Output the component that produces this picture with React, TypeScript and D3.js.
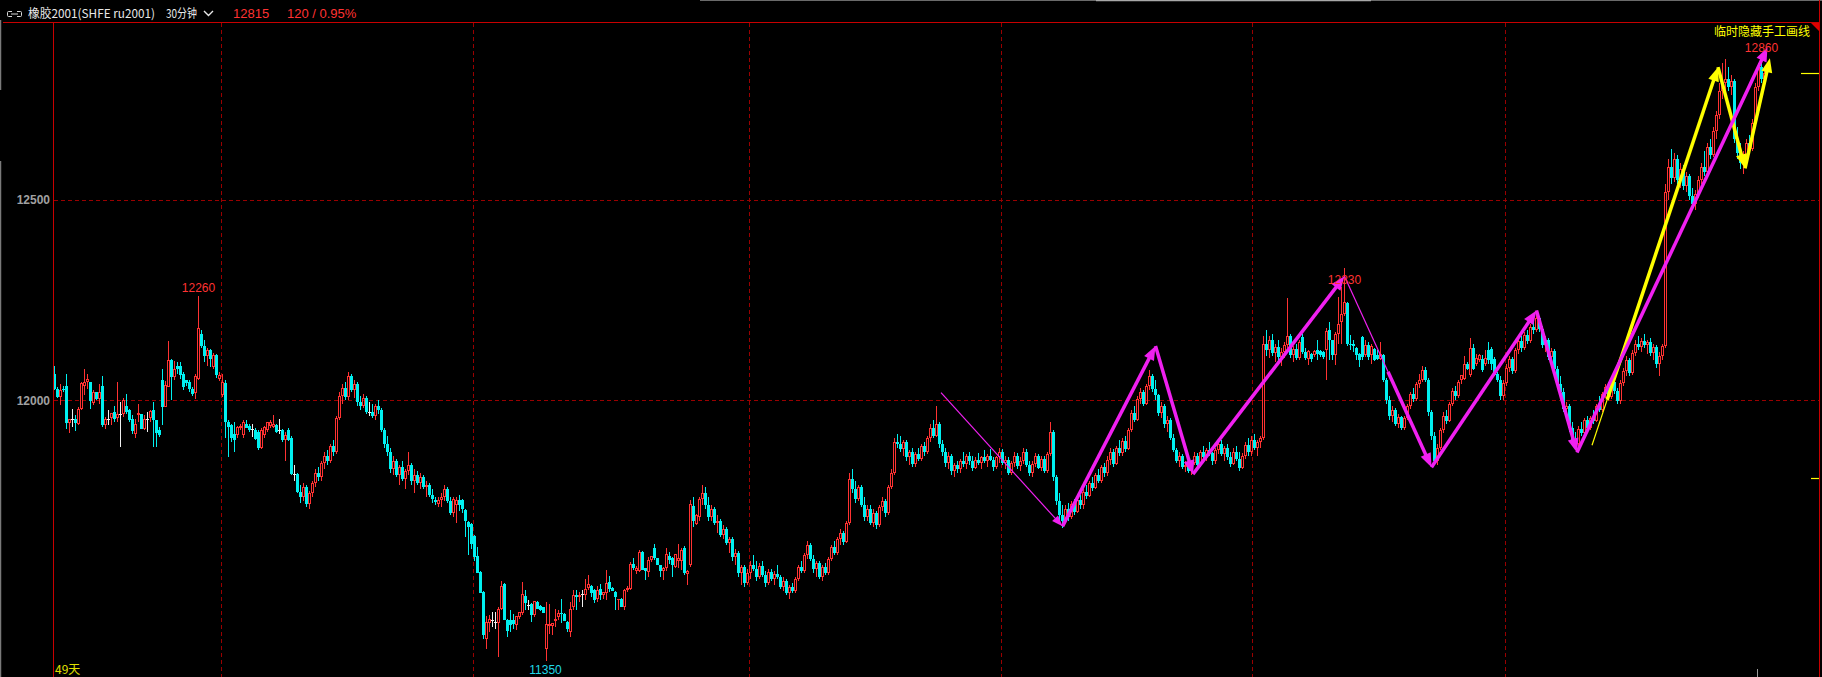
import React from "react";
import * as d3 from "d3";

type Bar = [number, number, number, number]; // open, high, low, close

const period1: Bar[] = [
  [12065,12085,12025,12029],[12029,12032,12005,12008],[12008,12040,11988,12025],[12029,12035,12020,12025],[12035,12065,11929,11944],[11944,11954,11919,11954],[11954,11979,11934,11954],[11954,11963,11924,11944],[11940,11983,11938,11979],[11979,12046,11975,12042],
  [12035,12079,12012,12046],[12046,12066,12029,12054],[12046,12046,11979,11998],[11993,12025,11988,12021],[12021,12021,12000,12002],[12002,12040,11991,12021],[12035,12060,11934,11938],[11938,11958,11929,11954],[11954,11975,11938,11954],[11957,11969,11938,11969],
  [11971,11985,11946,11954],[11957,12046,11946,11965],[11965,11996,11884,11965],[11965,12006,11958,12000],[11985,12015,11967,11971],[11975,11979,11946,11952],[11954,11963,11915,11924],[11915,11954,11905,11942],[11963,11990,11946,11968],[11965,11965,11929,11929],
  [11929,11963,11925,11954],[11954,11971,11921,11954],[11957,11975,11946,11973],[11975,11996,11884,11950],[11950,11952,11884,11919],[11927,11934,11909,11913],[12050,12079,11938,11983],[11983,12048,11983,12037],[12033,12147,12033,12100],[12100,12104,12000,12058],
  [12058,12098,12050,12079],[12085,12096,12066,12077],[12085,12096,12054,12062],[12066,12071,12025,12033],[12050,12050,12035,12042],[12046,12050,12020,12029],[12029,12033,12010,12015],[12017,12066,12004,12060],[12054,12260,12050,12180],[12165,12175,12130,12135],
  [12135,12150,12095,12110],[12110,12130,12085,12125],[12125,12128,12083,12104],[12083,12118,12078,12112],[12112,12115,12055,12062],[12054,12070,12048,12062],
];

const period2: Bar[] = [
  [12012,12066,12008,12046],[12042,12050,11905,11946],[11946,11950,11858,11934],[11938,11940,11895,11905],[11917,11945,11870,11900],[11913,11936,11905,11934],[11930,11940,11925,11937],[11913,11950,11905,11946],[11942,11950,11930,11932],[11935,11940,11922,11925],
  [11929,11942,11909,11929],[11927,11932,11902,11904],[11921,11925,11875,11880],[11880,11930,11878,11925],[11913,11937,11905,11934],[11926,11946,11920,11946],[11937,11950,11932,11946],[11934,11963,11930,11940],[11938,11940,11918,11921],[11925,11954,11917,11925],
  [11925,11928,11897,11900],[11900,11921,11850,11913],[11927,11930,11898,11900],[11905,11910,11815,11817],[11817,11840,11800,11817],[11817,11820,11770,11772],[11772,11790,11745,11760],[11760,11795,11750,11785],[11785,11790,11735,11742],[11742,11775,11730,11768],
  [11768,11800,11760,11795],[11795,11830,11785,11820],[11820,11835,11800,11808],[11808,11850,11800,11845],[11845,11870,11830,11862],[11862,11875,11840,11850],[11850,11890,11845,11885],[11885,11900,11860,11870],[11870,11960,11865,11955],[11955,12020,11950,12010],
  [12010,12040,11990,12030],[12030,12045,12000,12008],[12008,12070,12000,12060],[12060,12065,12020,12025],[12025,12050,12005,12040],[12040,12045,11985,11995],[11995,12010,11975,11985],[11985,12015,11980,12005],[12005,12010,11965,11970],[11970,11995,11960,11970],
  [11972,11990,11955,11960],[11960,11990,11950,11985],[11985,12000,11965,11975],[11975,11980,11920,11925],[11925,11930,11880,11890],[11890,11910,11860,11870],[11870,11880,11820,11830],[11830,11860,11815,11850],[11850,11855,11810,11815],[11815,11840,11790,11835],
  [11835,11850,11800,11805],[11805,11830,11780,11825],[11825,11870,11815,11840],[11840,11845,11790,11800],[11800,11830,11770,11815],[11815,11825,11790,11795],[11795,11820,11780,11810],[11810,11815,11780,11785],[11785,11800,11760,11790],[11790,11795,11760,11765],
  [11765,11780,11745,11755],[11751,11760,11740,11747],[11741,11760,11735,11751],[11751,11770,11735,11760],[11760,11790,11750,11780],[11780,11785,11745,11750],[11750,11760,11715,11720],[11720,11760,11710,11755],[11740,11760,11695,11751],[11751,11765,11725,11740],
  [11751,11755,11718,11730],[11726,11730,11660,11699],[11697,11700,11614,11685],[11691,11695,11630,11643],
];

const period3: Bar[] = [
  [11661,11665,11600,11610],[11611,11635,11570,11570],[11572,11575,11520,11520],[11522,11525,11406,11415],[11406,11462,11381,11448],[11445,11464,11423,11456],[11452,11473,11435,11452],[11448,11473,11431,11448],[11444,11485,11361,11481],[11481,11551,11477,11537],
  [11542,11545,11452,11452],[11452,11455,11410,11425],[11452,11477,11423,11440],[11452,11467,11431,11442],[11440,11462,11427,11462],[11460,11473,11455,11473],[11469,11547,11464,11517],[11512,11527,11477,11495],[11489,11502,11477,11489],[11492,11495,11448,11464],
  [11464,11499,11460,11499],[11498,11500,11481,11481],[11487,11490,11475,11477],[11484,11486,11470,11470],[11381,11498,11350,11442],[11437,11492,11419,11442],[11437,11445,11415,11445],[11450,11481,11435,11456],[11460,11477,11452,11470],[11470,11506,11444,11467],
  [11467,11470,11450,11450],[11448,11450,11423,11431],[11423,11498,11410,11481],[11484,11527,11477,11516],[11516,11527,11477,11510],[11510,11523,11498,11516],[11518,11527,11485,11518],[11514,11554,11502,11531],[11533,11566,11527,11542],[11537,11540,11510,11520],
  [11528,11530,11495,11503],[11506,11537,11498,11527],[11531,11542,11502,11514],[11514,11520,11505,11523],[11520,11577,11502,11545],[11547,11562,11523,11531],[11533,11535,11525,11525],[11523,11525,11477,11510],[11502,11506,11477,11506],[11506,11508,11485,11485],
  [11485,11530,11477,11528],[11528,11537,11522,11533],[11531,11597,11527,11592],[11592,11606,11577,11581],[11575,11587,11567,11581],[11575,11626,11572,11622],[11622,11625,11577,11577],[11581,11583,11552,11575],[11572,11610,11560,11601],[11601,11612,11598,11611],
  [11631,11641,11601,11606],[11606,11608,11589,11589],[11589,11590,11560,11575],[11575,11585,11552,11582],[11581,11631,11575,11616],[11611,11622,11593,11601],[11606,11610,11560,11589],[11585,11618,11581,11616],[11600,11641,11581,11606],[11600,11631,11577,11626],
  [11631,11636,11564,11570],[11567,11577,11540,11575],[11589,11751,11585,11741],[11736,11760,11685,11699],[11693,11716,11689,11714],[11709,11760,11700,11755],[11755,11790,11740,11770],[11770,11785,11730,11740],[11740,11760,11700,11710],[11710,11740,11700,11730],
  [11730,11735,11690,11695],[11695,11715,11670,11700],[11700,11705,11660,11665],[11665,11690,11655,11680],[11680,11685,11640,11645],[11645,11660,11620,11655],[11655,11660,11600,11610],[11610,11630,11590,11620],[11620,11625,11560,11570],[11570,11590,11540,11585],
  [11585,11590,11535,11545],[11545,11580,11540,11570],
];

const period4: Bar[] = [
  [11570,11600,11555,11590],[11590,11615,11575,11580],[11580,11600,11550,11560],[11560,11595,11555,11588],[11588,11600,11560,11565],[11565,11575,11535,11545],[11545,11580,11540,11572],[11572,11580,11550,11555],[11555,11575,11540,11568],[11568,11590,11555,11560],
  [11560,11565,11530,11535],[11535,11560,11525,11550],[11550,11555,11515,11520],[11520,11540,11505,11535],[11535,11545,11520,11525],[11525,11560,11520,11555],[11555,11590,11550,11585],[11585,11600,11570,11575],[11575,11620,11570,11615],[11615,11650,11605,11640],
  [11640,11645,11600,11605],[11605,11615,11570,11580],[11580,11600,11560,11595],[11595,11600,11555,11560],[11560,11590,11550,11585],[11585,11595,11565,11570],[11570,11610,11565,11605],[11605,11640,11600,11635],[11635,11650,11615,11620],[11620,11660,11615,11655],
  [11655,11680,11640,11670],[11670,11675,11640,11648],[11648,11700,11645,11695],[11695,11820,11690,11805],[11805,11830,11770,11780],[11780,11800,11745,11755],[11755,11790,11750,11785],[11785,11790,11735,11740],[11740,11760,11700,11710],[11710,11740,11700,11730],
  [11730,11740,11690,11695],[11695,11730,11685,11720],[11720,11725,11680,11690],[11690,11740,11685,11735],[11735,11760,11725,11750],[11750,11755,11710,11718],[11718,11790,11715,11785],[11785,11830,11780,11820],[11820,11905,11815,11895],[11895,11915,11880,11890],
  [11890,11912,11870,11878],[11878,11900,11860,11895],[11895,11900,11850,11858],[11858,11875,11840,11870],[11870,11880,11835,11842],[11842,11870,11835,11865],[11865,11880,11850,11855],[11855,11890,11850,11885],[11885,11895,11860,11870],[11870,11910,11865,11905],
  [11905,11940,11895,11930],[11930,11950,11905,11912],[11912,11985,11908,11940],[11940,11945,11880,11890],[11890,11900,11860,11870],[11870,11880,11835,11845],[11845,11870,11830,11860],[11860,11865,11815,11825],[11825,11845,11810,11838],[11838,11850,11820,11828],
  [11828,11855,11820,11850],[11850,11870,11835,11842],[11842,11865,11830,11860],[11860,11872,11840,11848],[11848,11860,11825,11832],[11832,11858,11828,11852],[11852,11868,11840,11845],[11845,11862,11830,11858],[11858,11875,11845,11850],[11850,11865,11835,11862],
  [11862,11878,11848,11852],[11852,11858,11825,11835],[11835,11862,11830,11858],[11858,11880,11845,11870],
];

const period5: Bar[] = [
  [11870,11878,11840,11845],[11845,11860,11830,11852],[11852,11858,11815,11820],[11820,11850,11815,11845],[11845,11870,11835,11862],[11862,11868,11830,11836],[11836,11858,11825,11850],[11850,11880,11842,11872],[11872,11878,11835,11840],[11840,11850,11812,11818],
  [11818,11848,11810,11842],[11842,11868,11835,11860],[11860,11865,11828,11832],[11832,11860,11825,11855],[11855,11862,11820,11825],[11825,11870,11820,11865],[11865,11945,11860,11920],[11920,11925,11800,11810],[11810,11815,11740,11750],[11750,11770,11700,11715],
  [11715,11740,11682,11700],[11700,11740,11695,11730],[11730,11745,11700,11710],[11710,11750,11705,11742],[11742,11755,11715,11722],[11722,11760,11718,11752],[11752,11765,11730,11738],[11738,11780,11730,11772],[11772,11790,11755,11762],[11762,11800,11758,11795],
  [11795,11810,11775,11782],[11782,11820,11778,11815],[11815,11830,11795,11800],[11800,11840,11795,11835],[11835,11845,11810,11818],[11818,11860,11812,11852],[11852,11880,11840,11870],[11870,11878,11835,11842],[11842,11885,11838,11880],[11880,11900,11860,11868],
  [11868,11905,11862,11898],[11898,11910,11870,11878],[11878,11930,11875,11925],[11925,11975,11920,11968],[11968,11985,11945,11952],[11952,12010,11948,12002],[12002,12030,11990,12020],[12020,12025,11985,11992],[11992,12040,11988,12035],[12035,12075,12025,12060],
  [12060,12065,12020,12028],[12028,12050,12000,12012],[12012,12015,11960,11968],[11968,11995,11955,11985],[11985,11990,11930,11940],[11940,11960,11920,11950],[11950,11955,11900,11905],[11905,11915,11870,11875],[11875,11880,11845,11850],[11850,11870,11835,11862],
  [11862,11865,11830,11835],[11835,11850,11822,11840],[11840,11842,11818,11825],[11825,11850,11815,11845],[11845,11870,11840,11862],[11862,11868,11835,11840],[11840,11875,11835,11870],[11870,11885,11852,11858],[11858,11880,11850,11875],[11875,11895,11862,11868],
  [11868,11872,11840,11848],[11848,11880,11842,11875],[11875,11898,11865,11890],[11890,11900,11860,11865],[11865,11885,11848,11880],[11880,11890,11852,11858],[11858,11870,11835,11842],[11842,11880,11838,11872],[11872,11885,11850,11855],[11855,11870,11825,11832],
  [11832,11868,11828,11862],[11862,11895,11855,11888],[11888,11905,11860,11870],[11870,11910,11862,11900],
];

const period6: Bar[] = [
  [11900,11915,11875,11880],[11880,11900,11860,11895],[11895,11910,11880,11905],[11905,12160,11900,12140],[12140,12175,12110,12125],[12125,12160,12105,12150],[12150,12165,12110,12118],[12118,12140,12095,12132],[12132,12150,12100,12108],[12108,12130,12085,12120],
  [12120,12145,12105,12138],[12138,12255,12130,12160],[12160,12165,12105,12112],[12112,12135,12095,12128],[12128,12140,12100,12105],[12105,12150,12100,12145],[12158,12165,12115,12120],[12120,12130,12100,12105],[12104,12125,12087,12123],[12116,12118,12095,12104],
  [12112,12125,12108,12123],[12125,12151,12100,12116],[12123,12125,12108,12112],[12120,12122,12104,12108],[12125,12180,12050,12173],[12176,12195,12100,12149],[12149,12150,12100,12112],[12112,12170,12087,12166],[12166,12257,12141,12191],[12195,12282,12141,12216],
  [12216,12330,12210,12245],[12243,12245,12135,12141],[12141,12162,12125,12137],[12141,12151,12120,12135],[12131,12133,12100,12112],[12116,12118,12083,12101],[12158,12160,12100,12108],[12112,12151,12108,12137],[12137,12145,12100,12108],[12112,12141,12091,12135],
  [12129,12131,12098,12101],[12112,12125,12100,12104],[12104,12145,12100,12116],[12112,12115,12045,12050],[12050,12055,11990,12000],[12000,12010,11950,11960],[11960,11985,11945,11975],[11975,11980,11935,11942],[11942,11965,11930,11958],[11958,11962,11925,11932],
  [11932,11960,11925,11955],[11955,11990,11950,11985],[11985,12020,11978,12015],[12015,12030,11995,12002],[12002,12045,11998,12040],[12040,12065,12030,12050],[12050,12085,12045,12075],[12075,12083,12045,12050],[12050,12055,11960,11970],[11970,11975,11900,11910],
  [11910,11920,11838,11850],[11850,11890,11840,11880],[11880,11930,11875,11925],[11925,11970,11918,11962],[11962,11975,11940,11948],[11948,11995,11945,11990],[11990,12030,11985,12022],[12022,12035,12000,12010],[12010,12050,12005,12045],[12050,12062,12040,12062],
  [12054,12111,12050,12090],[12091,12095,12075,12079],[12062,12156,12058,12131],[12131,12141,12075,12079],[12090,12116,12085,12106],[12100,12115,12095,12112],[12104,12112,12070,12075],[12091,12125,12085,12106],[12126,12145,12090,12100],[12129,12132,12075,12091],
  [12104,12108,12060,12062],[12066,12070,12045,12050],[12050,12060,12000,12010],[12010,12050,12000,12042],
];

const period7: Bar[] = [
  [12042,12090,12035,12080],[12080,12110,12070,12102],[12102,12108,12065,12072],[12072,12130,12068,12125],[12125,12155,12115,12148],[12148,12160,12120,12130],[12130,12170,12125,12162],[12162,12175,12140,12148],[12148,12190,12142,12182],[12182,12200,12165,12175],
  [12175,12215,12170,12205],[12205,12210,12170,12178],[12178,12185,12130,12138],[12138,12160,12120,12150],[12150,12155,12100,12108],[12108,12130,12080,12122],[12122,12128,12070,12078],[12078,12085,12030,12040],[12040,12060,12010,12020],[12020,12030,11970,11978],
  [11978,11995,11950,11985],[11985,11990,11920,11930],[11930,11945,11895,11902],[11902,11920,11875,11890],[11890,11935,11885,11928],[11928,11945,11910,11918],[11918,11955,11912,11950],[11950,11962,11925,11932],[11932,11960,11925,11955],[11955,11975,11940,11948],
  [11948,11990,11945,11985],[11985,12010,11970,11975],[11975,12020,11970,12015],[12015,12040,12005,12032],[12032,12045,12000,12008],[12008,12050,12002,12045],[12045,12060,12015,12022],[12022,12030,11990,11998],[11998,12050,11990,12042],[12042,12080,12035,12072],
  [12072,12110,12060,12100],[12100,12105,12060,12068],[12068,12125,12062,12118],[12118,12150,12110,12140],[12140,12160,12125,12132],[12132,12155,12120,12148],[12148,12165,12130,12138],[12138,12150,12115,12145],[12145,12155,12110,12118],[12118,12140,12100,12132],
  [12132,12138,12080,12090],[12090,12120,12060,12110],[12110,12140,12100,12135],[12135,12540,12130,12520],[12520,12600,12500,12580],[12580,12625,12540,12555],[12555,12615,12545,12600],[12600,12610,12540,12548],[12548,12590,12530,12575],[12575,12585,12525,12535],
  [12535,12570,12520,12560],[12560,12565,12500,12510],[12510,12530,12480,12490],[12490,12525,12475,12515],[12515,12560,12505,12550],[12550,12590,12540,12580],[12580,12620,12560,12570],[12570,12640,12565,12630],[12630,12650,12600,12610],[12610,12680,12605,12670],
  [12670,12720,12650,12710],[12710,12790,12700,12770],[12770,12840,12750,12790],[12790,12850,12760,12800],[12800,12830,12770,12780],[12780,12810,12760,12795],[12795,12800,12640,12650],[12650,12680,12600,12615],[12615,12640,12575,12590],[12590,12620,12565,12610],
  [12610,12650,12600,12640],[12640,12660,12615,12625],[12625,12700,12620,12690],[12690,12790,12680,12780],
];

const period8: Bar[] = [
  [12780,12840,12770,12830],[12830,12860,12790,12800],[12800,12830,12790,12815],
];

const periods: Bar[][] = [period1, period2, period3, period4, period5, period6, period7, period8];

const priceTicks = [12000, 12500];
const highLabels = [12260, 12330, 12860];
const lowLabels = [11350];
const lastPrice = 12815;
const priceChange = 120;
const changePercent = 0.95;
const markerLine = 11806;
const instrument = "橡胶2001(SHFE ru2001)";
const barPeriod = "30分钟";
const spanLabel = "49天";
const toolLabel = "临时隐藏手工画线";

// hand-drawn lines: [bar index, price]
const magentaPoints: [number, number][] = [
  [295.5, 12019], [336, 11686], [367, 12135], [379.5, 11816], [430, 12309],
  [459, 11833], [494, 12224], [507.5, 11870], [571, 12879],
];
const yellowPoints: [number, number][] = [
  [512.5, 11888], [554.5, 12830], [563.5, 12578], [571.8, 12852],
];

const UP = "#ff3232";
const DOWN = "#00f0f0";
const DOJI = "#f0f0f0";
const MAGENTA = "#f020f0";
const YELLOW = "#ffff00";
const GRID = "#9a0000";
const FRAME = "#c80000";
const NUM_FONT = "'Liberation Sans', Arial, sans-serif";
const CJK_FONT = "'Noto Sans CJK SC', 'Liberation Sans', sans-serif";

function arrow(
  key: string, x1: number, y1: number, x2: number, y2: number,
  color: string, width: number, headLen: number, headHalf: number
) {
  const dx = x2 - x1, dy = y2 - y1, L = Math.hypot(dx, dy);
  const ux = dx / L, uy = dy / L;
  const bx = x2 - ux * headLen, by = y2 - uy * headLen;
  const nx = -uy, ny = ux;
  return (
    <g key={key}>
      <line x1={x1} y1={y1} x2={bx + ux} y2={by + uy} stroke={color} strokeWidth={width} />
      <polygon
        points={`${x2},${y2} ${bx + nx * headHalf},${by + ny * headHalf} ${bx - nx * headHalf},${by - ny * headHalf}`}
        fill={color}
      />
    </g>
  );
}

export default function App() {
  const W = 1822, H = 677;
  const bars = periods.flat();
  const n = bars.length;
  const x = d3.scaleLinear().domain([0, n - 1]).range([54.5, 54.5 + 3 * (n - 1)]);
  const y = d3.scaleLinear().domain([12000, 12500]).range([400.3, 199.6]);

  const starts: number[] = [];
  let acc = 0;
  periods.forEach((p) => { starts.push(acc); acc += p.length; });
  const boundaries = starts.slice(1).map((s) => (x(s - 1) + x(s)) / 2);
  const dashedBounds = boundaries.slice(0, -1);
  const lastBound = boundaries[boundaries.length - 1];

  const candles = bars.map(([o, h, l, c], i) => {
    const cx = x(i);
    const hi = Math.max(h, o, c), lo = Math.min(l, o, c);
    const yh = y(hi), yl = y(lo);
    if (c > o) {
      const T = Math.round(y(c)), B = Math.round(y(o));
      if (B - T <= 2) {
        return (
          <g key={i}>
            <line x1={cx} x2={cx} y1={yh} y2={yl} stroke={UP} />
            <rect x={cx - 1.5} y={T} width={3} height={Math.max(B - T, 1)} fill={UP} />
          </g>
        );
      }
      return (
        <g key={i}>
          <line x1={cx} x2={cx} y1={yh} y2={T} stroke={UP} />
          <line x1={cx} x2={cx} y1={B} y2={yl} stroke={UP} />
          <rect x={cx - 1} y={T + 0.5} width={2} height={B - T - 1} fill="none" stroke={UP} />
        </g>
      );
    } else if (c < o) {
      const T = Math.round(y(o)), B = Math.round(y(c));
      return (
        <g key={i}>
          <line x1={cx} x2={cx} y1={yh} y2={yl} stroke={DOWN} />
          <rect x={cx - 1.5} y={T} width={3} height={Math.max(B - T, 1)} fill={DOWN} />
        </g>
      );
    }
    const Y = Math.round(y(c)) + 0.5;
    return (
      <g key={i}>
        <line x1={cx} x2={cx} y1={yh} y2={yl} stroke={DOJI} />
        <line x1={cx - 1.5} x2={cx + 1.5} y1={Y} y2={Y} stroke={DOJI} />
      </g>
    );
  });

  const highOffset: Record<number, number> = { 12330: 16.5 };

  const magSegs: JSX.Element[] = [];
  for (let k = 0; k < magentaPoints.length - 1; k++) {
    const [i1, p1] = magentaPoints[k];
    const [i2, p2] = magentaPoints[k + 1];
    const X1 = x(i1), Y1 = y(p1), X2 = x(i2), Y2 = y(p2);
    if (k === 0) {
      magSegs.push(arrow("m" + k, X1, Y1, X2, Y2, MAGENTA, 1.2, 11, 4));
    } else if (k === 4) {
      const mx = X1 + (X2 - X1) * 0.5, my = Y1 + (Y2 - Y1) * 0.5;
      magSegs.push(<line key={"mt" + k} x1={X1} y1={Y1} x2={mx} y2={my} stroke={MAGENTA} strokeWidth={1.2} />);
      magSegs.push(arrow("m" + k, mx, my, X2, Y2, MAGENTA, 3.5, 14, 5.5));
    } else {
      magSegs.push(arrow("m" + k, X1, Y1, X2, Y2, MAGENTA, 3.5, 14, 5.5));
    }
  }
  const yelSegs: JSX.Element[] = [];
  for (let k = 0; k < yellowPoints.length - 1; k++) {
    const [i1, p1] = yellowPoints[k];
    const [i2, p2] = yellowPoints[k + 1];
    const X1 = x(i1), Y1 = y(p1), X2 = x(i2), Y2 = y(p2);
    if (k === 0) {
      const mx = X1 + (X2 - X1) * 0.12, my = Y1 + (Y2 - Y1) * 0.12;
      yelSegs.push(<line key={"yt" + k} x1={X1} y1={Y1} x2={mx} y2={my} stroke={YELLOW} strokeWidth={1.2} />);
      yelSegs.push(arrow("y" + k, mx, my, X2, Y2, YELLOW, 3.5, 14, 5.5));
    } else {
      yelSegs.push(arrow("y" + k, X1, Y1, X2, Y2, YELLOW, 3.5, 14, 5.5));
    }
  }

  return (
    <div style={{ position: "absolute", left: 0, top: 0, width: W, height: H, background: "#000" }}>
      <svg width={W} height={H} style={{ display: "block" }}>
        <rect x={0} y={0} width={W} height={H} fill="#000" />

        {/* window chrome */}
        <line x1={700} x2={W} y1={0.5} y2={0.5} stroke="#6a6a6a" />
        <line x1={1096} x2={1371} y1={0.5} y2={0.5} stroke="#a8a8a8" strokeWidth={1.5} />
        <line x1={0.5} x2={0.5} y1={20} y2={90} stroke="#7a7a7a" strokeWidth={1.5} />
        <line x1={0.5} x2={0.5} y1={161} y2={H} stroke="#7a7a7a" strokeWidth={1.5} />

        {/* header */}
        <g stroke="#d8d8d8" fill="none" strokeWidth={1}>
          <path d="M12,11.5 H8.5 Q7.5,11.5 7.5,12.5 V15.5 Q7.5,16.5 8.5,16.5 H12" />
          <path d="M17,11.5 H20.5 Q21.5,11.5 21.5,12.5 V15.5 Q21.5,16.5 20.5,16.5 H17" />
          <line x1={11} x2={18} y1={14} y2={14} />
        </g>
        <text x={28} y={18} fontFamily={CJK_FONT} fontSize={12} fill="#e8e8e8" textLength={127} lengthAdjust="spacingAndGlyphs">{instrument}</text>
        <text x={166} y={18} fontFamily={CJK_FONT} fontSize={12} fill="#e8e8e8" textLength={31} lengthAdjust="spacingAndGlyphs">{barPeriod}</text>
        <path d="M204,11 L208.5,15.5 L213,11" stroke="#e8e8e8" strokeWidth={1.4} fill="none" />
        <text x={233} y={18} fontFamily={NUM_FONT} fontSize={13} fill={UP}>{lastPrice}</text>
        <text x={287} y={18} fontFamily={NUM_FONT} fontSize={13} fill={UP}>{`${priceChange} / ${changePercent.toFixed(2)}%`}</text>

        {/* grid */}
        <g shapeRendering="crispEdges">
          {priceTicks.map((p) => (
            <line key={"h" + p} x1={54} x2={1819} y1={Math.round(y(p)) + 0.5} y2={Math.round(y(p)) + 0.5} stroke={GRID} strokeDasharray="4,3" />
          ))}
          {dashedBounds.map((bx, k) => (
            <line key={"v" + k} x1={Math.floor(bx) + 0.5} x2={Math.floor(bx) + 0.5} y1={23} y2={H} stroke={GRID} strokeDasharray="4,3" />
          ))}
          <line x1={Math.floor(lastBound) + 0.5} x2={Math.floor(lastBound) + 0.5} y1={669} y2={H} stroke="#9a9a9a" />
        </g>

        {/* axis labels */}
        {priceTicks.map((p) => (
          <text key={"t" + p} x={50} y={y(p) + 4.5} textAnchor="end" fontFamily={NUM_FONT} fontSize={12} fontWeight="bold" fill="#a0a0a0">{p}</text>
        ))}

        {/* candles */}
        <g shapeRendering="crispEdges">{candles}</g>

        {/* frame */}
        <g shapeRendering="crispEdges">
          <line x1={3} x2={1820} y1={22.5} y2={22.5} stroke={FRAME} />
          <line x1={53.5} x2={53.5} y1={22} y2={H} stroke={FRAME} />
          <line x1={1819.5} x2={1819.5} y1={0} y2={H} stroke={FRAME} strokeWidth={1.5} />
        </g>
        <polygon points="1811,23 1819,23 1819,31" fill="#e00000" />

        {/* hand-drawn lines */}
        <g>{yelSegs}</g>
        <g>{magSegs}</g>

        {/* high / low labels */}
        {highLabels.map((v) => {
          const idx = bars.findIndex((b) => b[1] === v);
          if (idx < 0) return null;
          const off = highOffset[v] ?? -3.5;
          return (
            <text key={"hl" + v} x={x(idx)} y={y(v) + off} textAnchor="middle" fontFamily={NUM_FONT} fontSize={12} fill={UP}>{v}</text>
          );
        })}
        {lowLabels.map((v) => {
          const idx = bars.findIndex((b) => b[2] === v);
          if (idx < 0) return null;
          return (
            <text key={"ll" + v} x={x(idx) - 1} y={y(v) + 13} textAnchor="middle" fontFamily={NUM_FONT} fontSize={12} fill="#20d8e8">{v}</text>
          );
        })}

        {/* right markers */}
        <line x1={1801} x2={1819} y1={Math.round(y(lastPrice)) + 0.5} y2={Math.round(y(lastPrice)) + 0.5} stroke={YELLOW} strokeWidth={1.2} />
        <line x1={1811} x2={1819} y1={Math.round(y(markerLine)) + 0.5} y2={Math.round(y(markerLine)) + 0.5} stroke={YELLOW} strokeWidth={1.2} />

        <text x={1810} y={36} textAnchor="end" fontFamily={CJK_FONT} fontSize={12} fill={YELLOW}>{toolLabel}</text>
        <text x={55} y={674} fontFamily={CJK_FONT} fontSize={12} fill="#e0e000">{spanLabel}</text>
      </svg>
    </div>
  );
}
